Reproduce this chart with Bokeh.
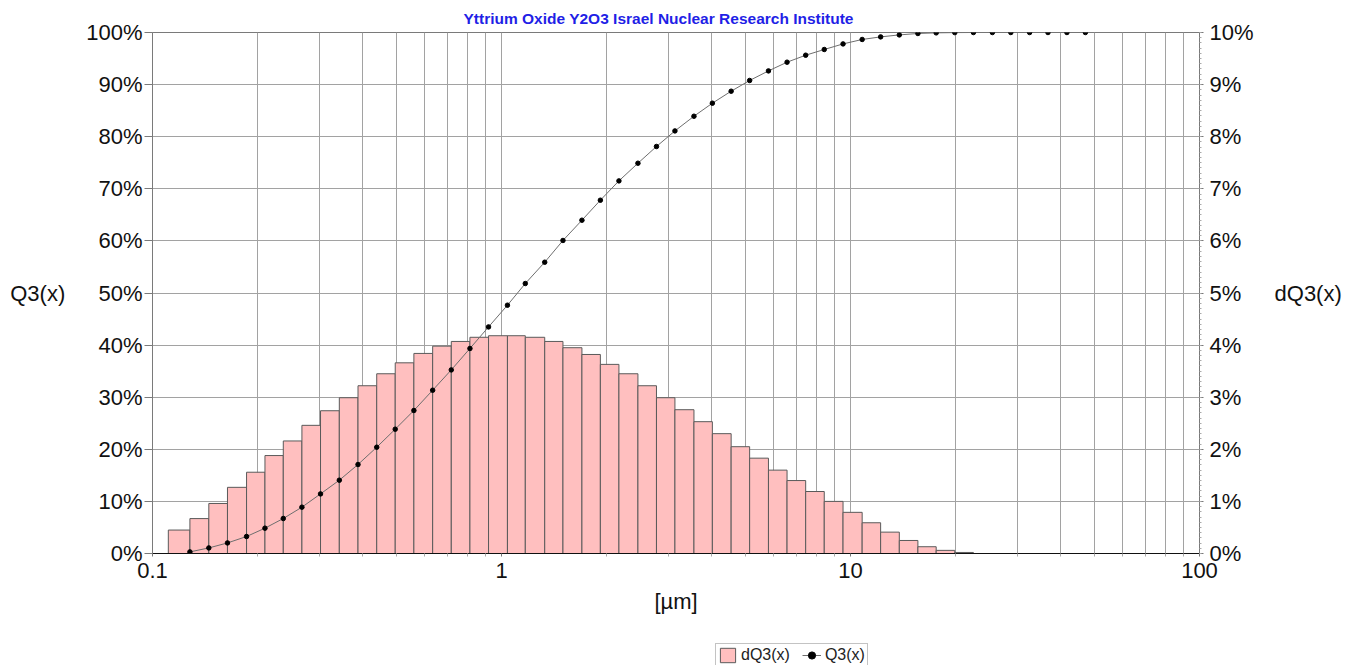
from bokeh.plotting import figure
from bokeh.layouts import column
from bokeh.models import (Range1d, LinearAxis, FixedTicker, PrintfTickFormatter,
                          CustomJSTickFormatter, Legend, LegendItem, ColumnDataSource)
from bokeh.embed import file_html
from bokeh.resources import INLINE

title_text = "Yttrium Oxide Y2O3 Israel Nuclear Research Institute"
x_label = "[µm]"
left_label = "Q3(x)"
right_label = "dQ3(x)"
series_bar = "dQ3(x)"
series_line = "Q3(x)"

# class edges [µm]
edges = [0.111, 0.128, 0.145, 0.164, 0.186, 0.210, 0.237, 0.268, 0.303, 0.343,
         0.388, 0.439, 0.496, 0.561, 0.635, 0.718, 0.812, 0.918, 1.04, 1.17,
         1.33, 1.50, 1.70, 1.92, 2.17, 2.46, 2.78, 3.14, 3.56, 4.02,
         4.55, 5.14, 5.82, 6.58, 7.44, 8.41, 9.52, 10.8, 12.2, 13.8,
         15.6, 17.6, 19.9, 22.5, 25.5, 28.8, 32.6, 36.8, 41.7, 47.1]

# density per class [%]
dq3 = [0.45, 0.67, 0.96, 1.27, 1.56, 1.88, 2.16, 2.46, 2.74, 2.99,
       3.22, 3.45, 3.66, 3.84, 3.98, 4.07, 4.15, 4.18, 4.18, 4.15,
       4.07, 3.95, 3.82, 3.63, 3.45, 3.22, 2.99, 2.76, 2.53, 2.30,
       2.05, 1.83, 1.60, 1.40, 1.19, 1.00, 0.79, 0.59, 0.41, 0.25,
       0.13, 0.06, 0.02, 0.0, 0.0, 0.0, 0.0, 0.0, 0.0]

# cumulative [%] at upper class edges
q3 = [0.31, 1.07, 2.03, 3.26, 4.86, 6.72, 8.89, 11.44, 14.07, 17.08,
      20.40, 23.86, 27.45, 31.34, 35.24, 39.35, 43.49, 47.66, 51.82, 55.91,
      60.08, 63.97, 67.81, 71.52, 74.91, 78.12, 81.11, 83.93, 86.43, 88.73,
      90.79, 92.63, 94.30, 95.64, 96.74, 97.81, 98.66, 99.16, 99.54, 99.81,
      99.93, 99.98, 100.0, 100.0, 100.0, 100.0, 100.0, 100.0, 100.0]

x_major = [0.1, 1, 10, 100]
left_ticks = [0, 10, 20, 30, 40, 50, 60, 70, 80, 90, 100]
right_ticks = [0, 1, 2, 3, 4, 5, 6, 7, 8, 9, 10]

FONT = "Liberation Sans"

p = figure(frame_width=1047, frame_height=521, x_axis_type="log",
           x_range=Range1d(0.1, 100), y_range=Range1d(0, 100),
           output_backend="svg", toolbar_location=None,
           min_border_left=152, min_border_right=160,
           min_border_top=32, min_border_bottom=77)
p.extra_y_ranges = {"dq3": Range1d(0, 10)}

# title
p.title.text = title_text
p.title.text_font = FONT
p.title.text_font_size = "15.5px"
p.title.text_font_style = "bold"
p.title.text_color = "#1f1fe6"
p.title.align = "left"
p.title.offset = 311
p.title.standoff = 12

minor_x = []
for dec in [0.1, 1, 10]:
    for k in range(2, 10):
        minor_x.append(round(dec * k, 4))

# grid
p.xgrid.ticker = FixedTicker(ticks=x_major + minor_x)
p.xgrid.grid_line_color = "#a2a2a2"
p.xgrid.grid_line_width = 1
p.ygrid.ticker = FixedTicker(ticks=left_ticks)
p.ygrid.grid_line_color = "#a2a2a2"
p.ygrid.grid_line_width = 1
p.outline_line_color = "#7a7a7a"

# bars
bar_src = ColumnDataSource(dict(left=edges[:-1], right=edges[1:], top=dq3,
                                bottom=[0] * len(dq3)))
bar_style = dict(fill_color="#ffbfbf", line_color="#5a5a5a", line_width=1)
bars = p.quad(left="left", right="right", top="top", bottom="bottom", source=bar_src,
              y_range_name="dq3", **bar_style)

# cumulative curve
line_src = ColumnDataSource(dict(x=edges[1:], y=q3))
line_style = dict(line_color="#6e6e6e", line_width=1)
dot_style = dict(size=4.5, fill_color="black", line_color="black")
ln = p.line("x", "y", source=line_src, **line_style)
pts = p.scatter("x", "y", source=line_src, **dot_style)

# x axis
xa = p.xaxis[0]
xa.ticker = FixedTicker(ticks=x_major, minor_ticks=minor_x)
xa.formatter = CustomJSTickFormatter(code="return tick.toString();")
xa.axis_label = x_label
xa.axis_label_text_font = FONT
xa.axis_label_text_font_size = "22px"
xa.axis_label_text_font_style = "normal"
xa.axis_label_text_color = "#111111"
xa.axis_label_standoff = 8
xa.major_label_text_font = FONT
xa.major_label_text_font_size = "22px"
xa.major_label_text_color = "#111111"
xa.major_label_standoff = 6
xa.major_tick_out = 3
xa.major_tick_in = 0
xa.minor_tick_out = 3
xa.minor_tick_in = 0
xa.axis_line_color = "#111111"
xa.major_tick_line_color = "#777777"
xa.minor_tick_line_color = "#aaaaaa"

# left axis
ya = p.yaxis[0]
ya.ticker = FixedTicker(ticks=left_ticks)
ya.formatter = PrintfTickFormatter(format="%d%%")
ya.axis_label = left_label
ya.axis_label_orientation = "horizontal"
ya.axis_label_text_font = FONT
ya.axis_label_text_font_size = "22px"
ya.axis_label_text_font_style = "normal"
ya.axis_label_text_color = "#111111"
ya.axis_label_standoff = 18
ya.major_label_text_font = FONT
ya.major_label_text_font_size = "22px"
ya.major_label_text_color = "#111111"
ya.major_label_standoff = 2
ya.major_tick_out = 8
ya.major_tick_in = 0
ya.minor_tick_out = 0
ya.minor_tick_in = 0
ya.axis_line_color = "#7a7a7a"
ya.major_tick_line_color = "#7a7a7a"

# right axis
ra = LinearAxis(y_range_name="dq3")
ra.ticker = FixedTicker(ticks=right_ticks,
                        minor_ticks=[i / 10 for i in range(0, 101)])
ra.formatter = PrintfTickFormatter(format="%d%%")
ra.axis_label = right_label
ra.axis_label_orientation = "horizontal"
ra.axis_label_text_font = FONT
ra.axis_label_text_font_size = "22px"
ra.axis_label_text_font_style = "normal"
ra.axis_label_text_color = "#111111"
ra.axis_label_standoff = 18
ra.major_label_text_font = FONT
ra.major_label_text_font_size = "22px"
ra.major_label_text_color = "#111111"
ra.major_label_standoff = 6
ra.major_tick_out = 4
ra.major_tick_in = 0
ra.minor_tick_out = 2
ra.minor_tick_in = 0
ra.axis_line_color = "#7a7a7a"
ra.major_tick_line_color = "#7a7a7a"
ra.minor_tick_line_color = "#aaaaaa"
p.add_layout(ra, "right")

# legend strip below the chart (same series, drawn outside its visible range)
lg = figure(width=1359, height=35, x_axis_type="log",
            x_range=p.x_range, y_range=Range1d(1000, 1001),
            output_backend="svg", toolbar_location=None,
            x_axis_location=None, y_axis_location=None,
            min_border=0, min_border_left=0, min_border_right=0,
            min_border_top=0, min_border_bottom=0)
lg.outline_line_color = None
lg.xgrid.visible = False
lg.ygrid.visible = False
lbars = lg.quad(left="left", right="right", top="top", bottom="bottom",
                source=bar_src, **bar_style)
lln = lg.line("x", "y", source=line_src, **line_style)
lpts = lg.scatter("x", "y", source=line_src, **dot_style)

legend = Legend(items=[LegendItem(label=series_bar, renderers=[lbars]),
                       LegendItem(label=series_line, renderers=[lln, lpts])],
                orientation="horizontal", location=(563, -2),
                label_text_font=FONT, label_text_font_size="16px",
                label_text_color="#222222",
                glyph_width=19, glyph_height=18, label_standoff=4,
                spacing=12, padding=2, margin=0,
                border_line_color="#888888", border_line_width=1,
                background_fill_alpha=1.0, label_height=18)
lg.add_layout(legend, "center")

layout = column(p, lg, spacing=0)
open("out.html", "w").write(file_html(layout, INLINE))
